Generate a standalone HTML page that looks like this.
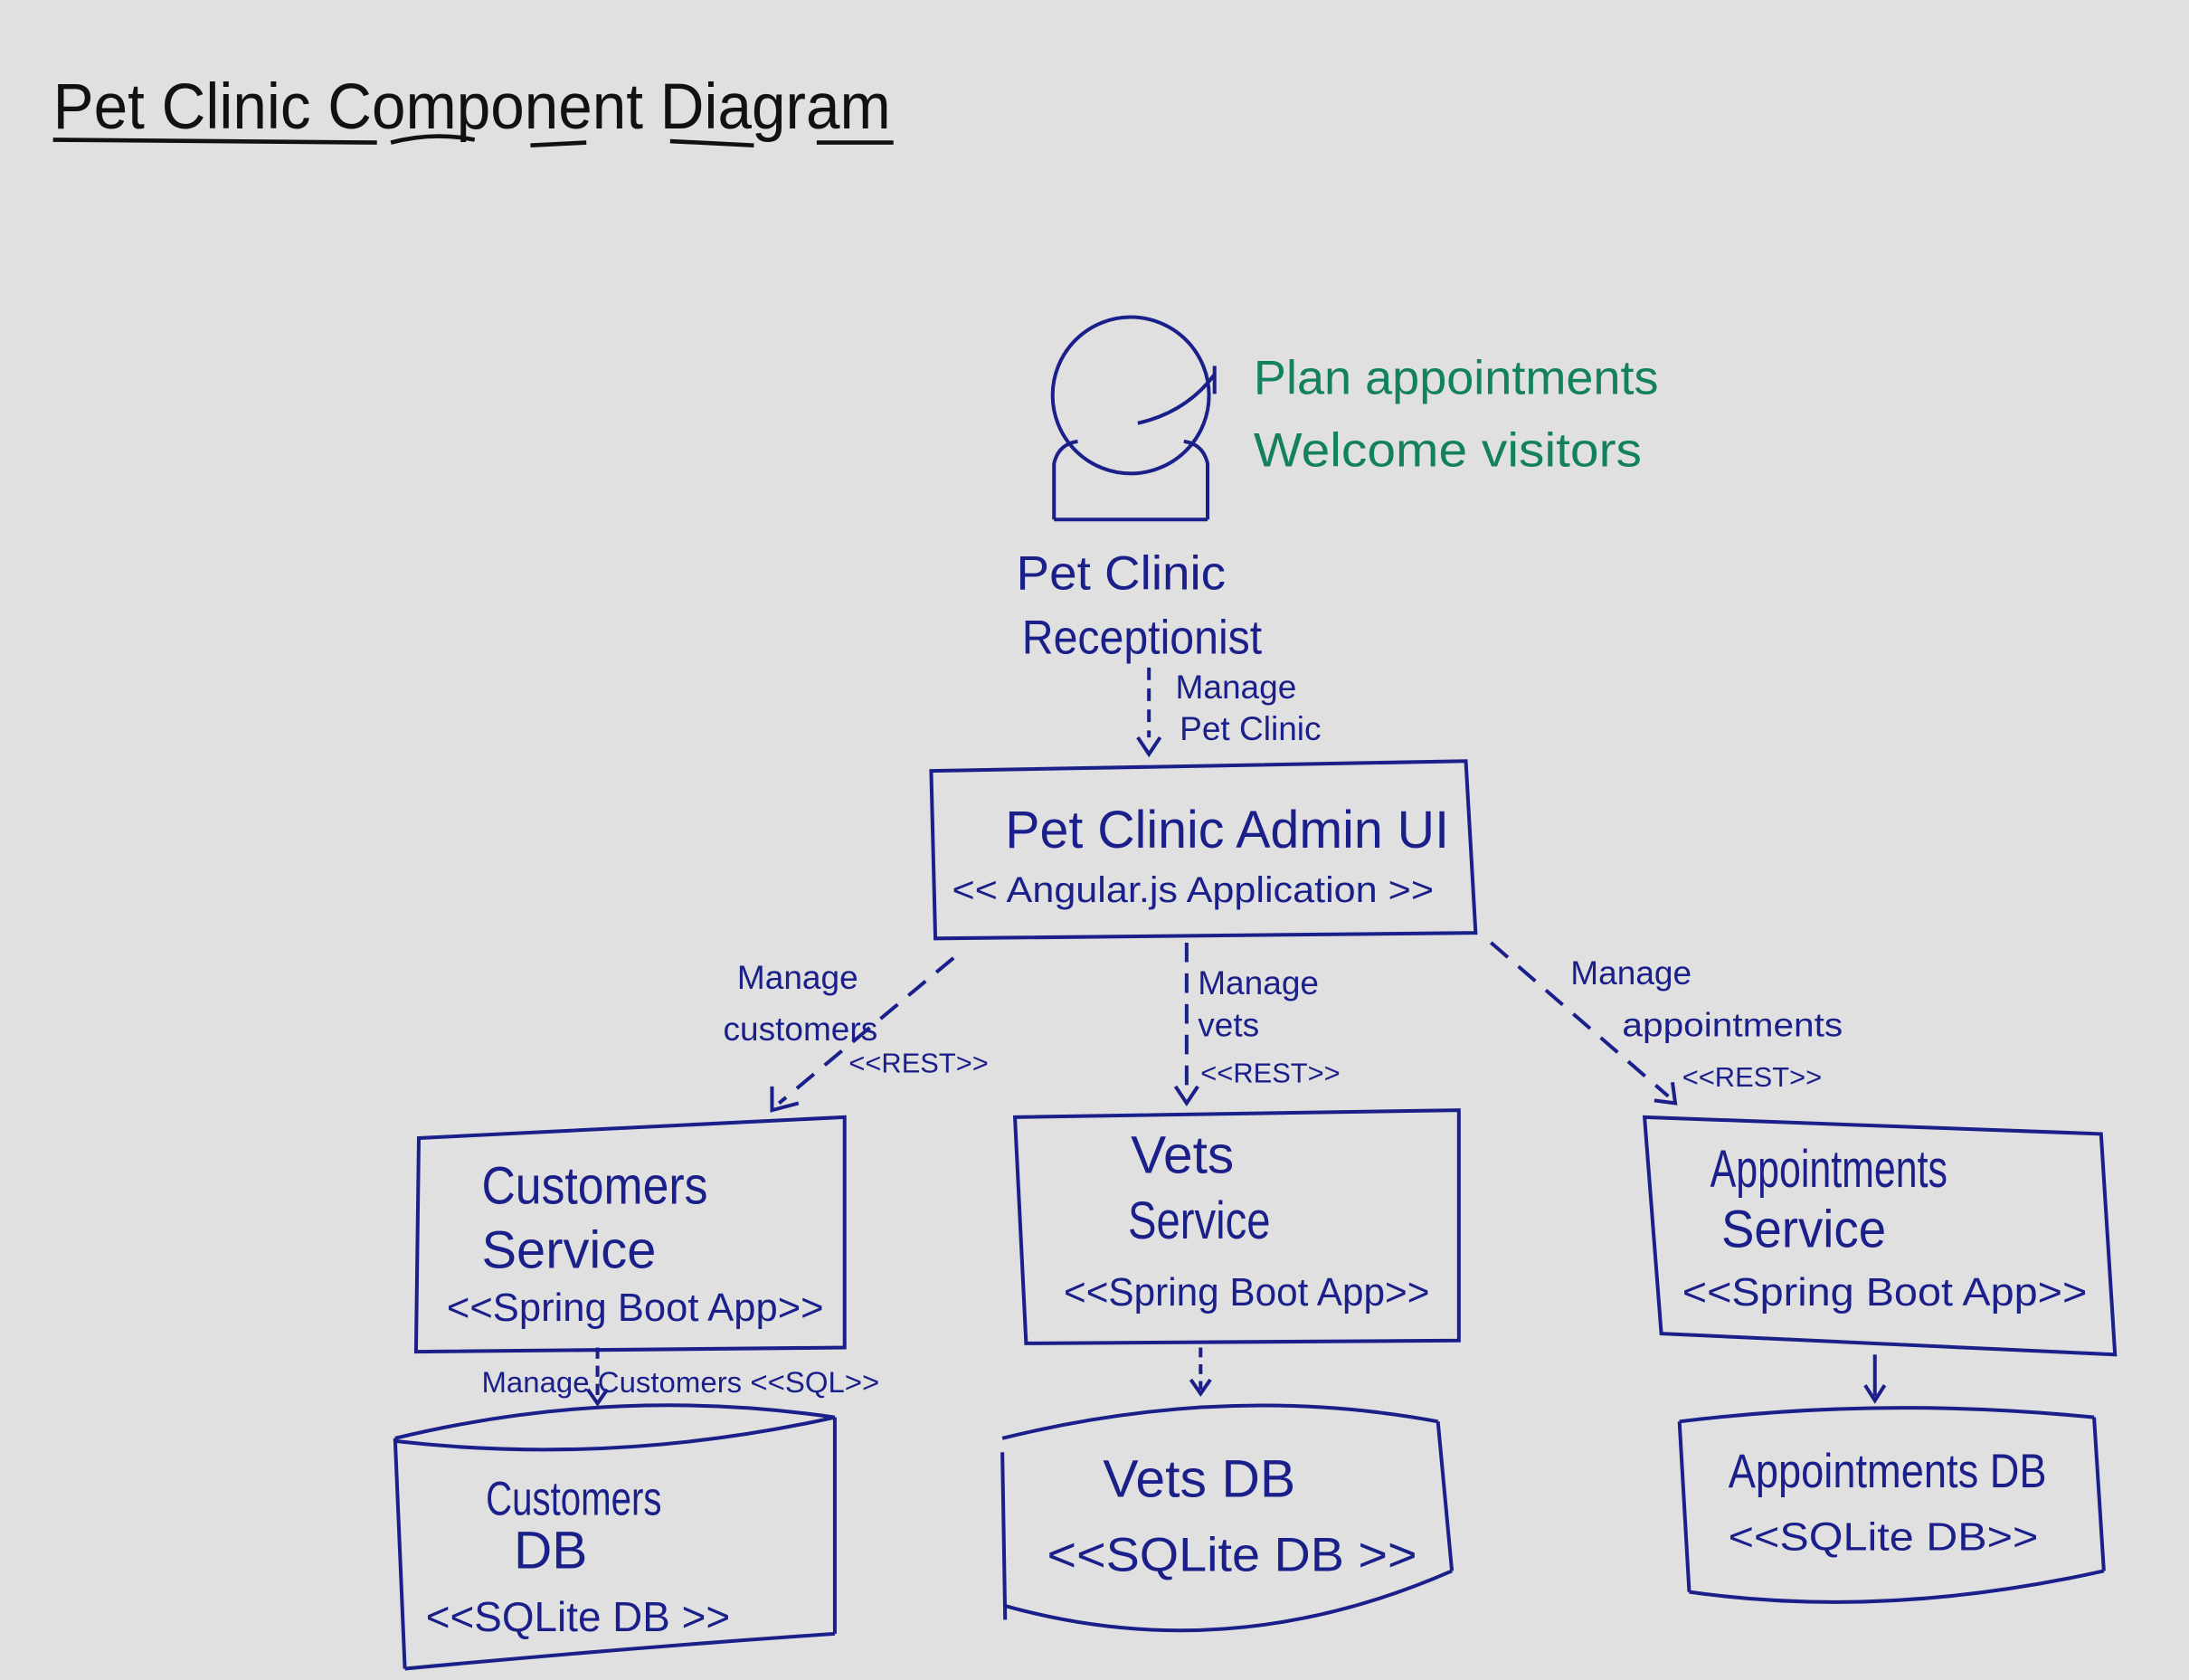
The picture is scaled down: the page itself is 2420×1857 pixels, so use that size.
<!DOCTYPE html>
<html><head><meta charset="utf-8"><style>
html,body{margin:0;padding:0;background:#e0e0e0;}
svg{display:block}
text{font-family:"Liberation Sans",sans-serif;fill:#1a1f8a}
</style></head><body>
<svg width="2420" height="1857" viewBox="0 0 1568 1203" xmlns="http://www.w3.org/2000/svg">
<rect width="1568" height="1203" fill="#e0e0e0"/>
<text x="38" y="92" font-size="46" style="fill:#111" textLength="600" lengthAdjust="spacingAndGlyphs">Pet Clinic  Component Diagram</text>
<path d="M38 100 L270 102 M280 102 Q310 94 340 100 M380 104 L420 102 M480 101 L540 104 M585 102 L640 102" stroke="#111" stroke-width="3" fill="none"/>
<g stroke="#1a1f8a" stroke-width="2.6" fill="none">
<circle cx="810" cy="283" r="56"/>
<path d="M755 372 L755 332 Q758 318 772 316 M848 316 Q862 318 865 332 L865 372 M755 372 L865 372"/>
<path d="M815 303 Q850 295 870 268 M870 262 L870 282"/>
<path d="M823 478 L823 528" stroke-dasharray="9 6"/>
<path d="M815 528 L823 540 L831 528"/>
<path d="M667 552 L1050 545 L1057 668 L670 672 Z"/>
<path d="M683 686 L558 790" stroke-dasharray="16 10"/>
<path d="M553 778 L553 795 L572 790"/>
<path d="M850 675 L850 785" stroke-dasharray="14 8"/>
<path d="M842 778 L850 790 L858 778"/>
<path d="M1068 675 L1195 785" stroke-dasharray="16 10"/>
<path d="M1185 788 L1200 790 L1198 775"/>
<path d="M300 815 L605 800 L605 965 L298 968 Z"/>
<path d="M727 800 L1045 795 L1045 960 L735 962 Z"/>
<path d="M1178 800 L1505 812 L1515 970 L1190 955 Z"/>
<path d="M428 965 L428 1003" stroke-dasharray="8 5"/><path d="M421 995 L428 1005 L435 995"/>
<path d="M860 965 L860 995" stroke-dasharray="7 5"/><path d="M853 988 L860 998 L867 988"/>
<path d="M1343 970 L1343 1000"/><path d="M1336 992 L1343 1003 L1350 992"/>
<path d="M283 1030 Q440 992 598 1015 M283 1032 Q440 1050 598 1015 M283 1030 L290 1195 M598 1015 L598 1170 M290 1195 Q450 1180 598 1170"/>
<path d="M718 1030 Q880 990 1030 1018 M718 1040 L720 1160 M1030 1018 L1040 1125 M720 1150 Q880 1195 1040 1125"/>
<path d="M1203 1018 Q1350 1000 1500 1015 M1203 1018 L1210 1140 M1500 1015 L1507 1125 M1210 1140 Q1350 1160 1507 1125"/>
</g>
<g font-size="34" style="fill:#138060">
<text x="898" y="282" style="fill:#138060" textLength="290" lengthAdjust="spacingAndGlyphs">Plan appointments</text>
<text x="898" y="334" style="fill:#138060" textLength="278" lengthAdjust="spacingAndGlyphs">Welcome visitors</text>
</g>
<g font-size="34">
<text x="728" y="422" textLength="150" lengthAdjust="spacingAndGlyphs">Pet Clinic</text>
<text x="732" y="468" textLength="172" lengthAdjust="spacingAndGlyphs">Receptionist</text>
</g>
<g font-size="24">
<text x="842" y="500">Manage</text>
<text x="845" y="530">Pet Clinic</text>
<text x="528" y="708">Manage</text>
<text x="518" y="745">customers</text>
<text x="608" y="768" font-size="20">&lt;&lt;REST&gt;&gt;</text>
<text x="858" y="712">Manage</text>
<text x="858" y="742">vets</text>
<text x="860" y="775" font-size="20">&lt;&lt;REST&gt;&gt;</text>
<text x="1125" y="705">Manage</text>
<text x="1162" y="742" textLength="158" lengthAdjust="spacingAndGlyphs">appointments</text>
<text x="1205" y="778" font-size="20">&lt;&lt;REST&gt;&gt;</text>
<text x="345" y="997" font-size="21" textLength="285" lengthAdjust="spacingAndGlyphs">Manage Customers &lt;&lt;SQL&gt;&gt;</text>
</g>
<g font-size="38">
<text x="720" y="607" textLength="318" lengthAdjust="spacingAndGlyphs">Pet Clinic Admin UI</text>
<text x="682" y="646" font-size="26" textLength="345" lengthAdjust="spacingAndGlyphs">&lt;&lt; Angular.js Application &gt;&gt;</text>
<text x="345" y="862" textLength="162" lengthAdjust="spacingAndGlyphs">Customers</text>
<text x="345" y="908" textLength="125" lengthAdjust="spacingAndGlyphs">Service</text>
<text x="320" y="946" font-size="28" textLength="270" lengthAdjust="spacingAndGlyphs">&lt;&lt;Spring Boot App&gt;&gt;</text>
<text x="810" y="840">Vets</text>
<text x="808" y="887" textLength="102" lengthAdjust="spacingAndGlyphs">Service</text>
<text x="762" y="935" font-size="28" textLength="262" lengthAdjust="spacingAndGlyphs">&lt;&lt;Spring Boot App&gt;&gt;</text>
<text x="1225" y="850" textLength="170" lengthAdjust="spacingAndGlyphs">Appointments</text>
<text x="1233" y="893" textLength="118" lengthAdjust="spacingAndGlyphs">Service</text>
<text x="1205" y="935" font-size="28" textLength="290" lengthAdjust="spacingAndGlyphs">&lt;&lt;Spring Boot App&gt;&gt;</text>
<text x="348" y="1085" font-size="34" textLength="126" lengthAdjust="spacingAndGlyphs">Customers</text>
<text x="368" y="1123">DB</text>
<text x="305" y="1168" font-size="30" textLength="218" lengthAdjust="spacingAndGlyphs">&lt;&lt;SQLite DB &gt;&gt;</text>
<text x="790" y="1072" textLength="138" lengthAdjust="spacingAndGlyphs">Vets DB</text>
<text x="750" y="1125" font-size="34" textLength="265" lengthAdjust="spacingAndGlyphs">&lt;&lt;SQLite DB &gt;&gt;</text>
<text x="1238" y="1065" font-size="34" textLength="228" lengthAdjust="spacingAndGlyphs">Appointments DB</text>
<text x="1238" y="1110" font-size="28" textLength="222" lengthAdjust="spacingAndGlyphs">&lt;&lt;SQLite DB&gt;&gt;</text>
</g>
</svg>
</body></html>
